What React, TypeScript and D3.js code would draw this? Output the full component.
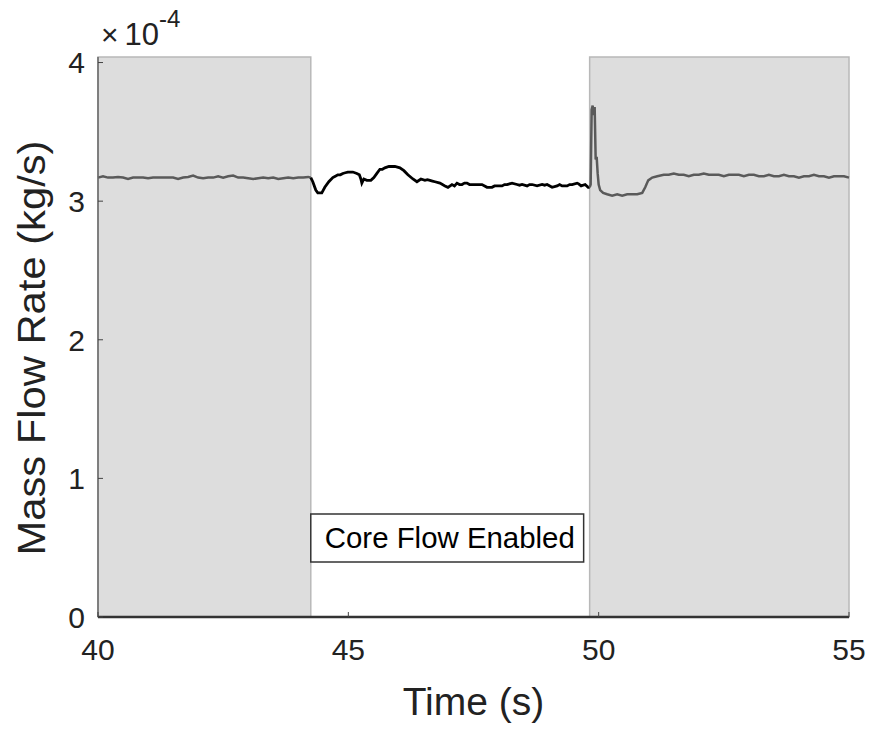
import React from "react";
import * as d3 from "d3";

// Data (mass flow rate in units of 1e-4 kg/s)
const leftT = [40.0,40.1,40.2,40.3,40.4,40.5,40.6,40.7,40.8,40.9,41.0,41.1,41.2,41.3,41.4,41.5,41.6,41.7,41.8,41.9,42.0,42.1,42.2,42.3,42.4,42.5,42.6,42.7,42.8,42.9,43.0,43.1,43.2,43.3,43.4,43.5,43.6,43.7,43.8,43.9,44.0,44.1,44.2,44.25];
const leftV = [3.17,3.18,3.17,3.17,3.175,3.17,3.16,3.17,3.17,3.17,3.165,3.17,3.17,3.17,3.17,3.17,3.16,3.17,3.175,3.185,3.17,3.165,3.17,3.17,3.18,3.17,3.18,3.185,3.17,3.17,3.165,3.16,3.165,3.17,3.165,3.17,3.16,3.165,3.17,3.165,3.17,3.17,3.175,3.17];

const midT = [44.25,44.29,44.35,44.39,44.47,44.53,44.61,44.69,44.74,44.79,44.84,44.89,44.94,44.99,45.04,45.09,45.17,45.22,45.25,45.27,45.31,45.37,45.45,45.51,45.57,45.63,45.68,45.73,45.81,45.93,46.03,46.11,46.19,46.29,46.37,46.45,46.53,46.58,46.63,46.68,46.73,46.83,46.93,46.99,47.07,47.12,47.17,47.22,47.27,47.32,47.37,47.42,47.47,47.57,47.67,47.77,47.87,47.92,47.97,48.07,48.12,48.17,48.27,48.37,48.42,48.47,48.57,48.62,48.67,48.77,48.87,48.92,48.97,49.07,49.17,49.22,49.27,49.37,49.42,49.47,49.57,49.60,49.65,49.73,49.79,49.82];
const midV = [3.17,3.14,3.08,3.06,3.06,3.10,3.14,3.17,3.18,3.19,3.19,3.20,3.205,3.21,3.21,3.21,3.20,3.19,3.16,3.13,3.16,3.15,3.15,3.17,3.20,3.23,3.23,3.24,3.25,3.25,3.24,3.22,3.19,3.16,3.14,3.16,3.15,3.155,3.15,3.145,3.14,3.13,3.11,3.10,3.12,3.11,3.13,3.12,3.12,3.13,3.13,3.12,3.12,3.12,3.12,3.10,3.10,3.11,3.11,3.11,3.12,3.12,3.13,3.12,3.115,3.12,3.11,3.12,3.12,3.11,3.12,3.115,3.12,3.10,3.11,3.12,3.11,3.11,3.12,3.12,3.13,3.125,3.11,3.12,3.10,3.10];

const rightT = [49.82,49.84,49.86,49.88,49.90,49.92,49.94,49.96,49.98,50.00,50.03,50.09,50.17,50.27,50.37,50.47,50.57,50.67,50.77,50.87,50.93,50.99,51.07,51.17,51.3,51.4,51.5,51.6,51.7,51.8,51.9,52.0,52.1,52.2,52.3,52.4,52.5,52.6,52.7,52.8,52.9,53.0,53.1,53.2,53.3,53.4,53.5,53.6,53.7,53.8,53.9,54.0,54.1,54.2,54.3,54.4,54.5,54.6,54.7,54.8,54.9,55.0];
const rightV = [3.10,3.12,3.66,3.69,3.62,3.68,3.30,3.32,3.20,3.12,3.08,3.06,3.05,3.04,3.05,3.04,3.05,3.05,3.05,3.06,3.10,3.15,3.17,3.18,3.19,3.19,3.20,3.19,3.19,3.18,3.19,3.19,3.20,3.19,3.19,3.19,3.18,3.19,3.19,3.19,3.18,3.19,3.19,3.18,3.18,3.19,3.18,3.18,3.19,3.18,3.18,3.17,3.18,3.18,3.19,3.18,3.18,3.17,3.18,3.18,3.18,3.17];

const shadeStart = [40, 49.82];
const shadeEnd = [44.25, 55];

const xTicks = [40, 45, 50, 55];
const yTicks = [0, 1, 2, 3, 4];

const annotation = "Core Flow Enabled";
const xLabel = "Time (s)";
const yLabel = "Mass Flow Rate (kg/s)";

export default function App() {
  const W = 871, H = 729;
  const x = d3.scaleLinear().domain([40, 55]).range([98, 849]);
  const y = d3.scaleLinear().domain([0, 4.04]).range([617, 57]);
  const line = d3.line<[number, number]>().x(d => x(d[0])).y(d => y(d[1]));
  const seg = (t: number[], v: number[]) => line(t.map((tt, i) => [tt, v[i]] as [number, number])) || "";
  const font = "'Liberation Sans', Arial, sans-serif";

  return (
    <svg width={W} height={H} style={{ position: "absolute", left: 0, top: 0, background: "#fff" }} fontFamily={font}>
      <rect x={0} y={0} width={W} height={H} fill="#fff" />
      {shadeStart.map((s, i) => (
        <rect key={i} x={x(s)} y={y(4.04)} width={x(shadeEnd[i]) - x(s)} height={y(0) - y(4.04)}
          fill="#dddddd" stroke="#b8b8b8" strokeWidth={1.5} />
      ))}
      <path d={seg(leftT, leftV)} fill="none" stroke="#5a5a5a" strokeWidth={2.5} />
      <path d={seg(midT, midV)} fill="none" stroke="#000" strokeWidth={2.8} />
      <path d={seg(rightT, rightV)} fill="none" stroke="#5a5a5a" strokeWidth={2.5} />

      {/* annotation box */}
      <rect x={x(44.25)} y={514} width={x(49.7) - x(44.25)} height={48} fill="#fff" stroke="#333" strokeWidth={1.5} />
      <text x={x(44.25) + 14} y={548} fontSize={29} fill="#000" textLength={250} lengthAdjust="spacingAndGlyphs">{annotation}</text>

      {/* axes */}
      <line x1={x(40)} x2={x(40)} y1={y(4.04)} y2={y(0)} stroke="#666" strokeWidth={1.5} />
      <line x1={x(40)} x2={x(55)} y1={y(0)} y2={y(0)} stroke="#333" strokeWidth={2.5} />
      {yTicks.map(t => (
        <g key={t}>
          <line x1={x(40)} x2={x(40) + 5} y1={y(t)} y2={y(t)} stroke="#444" strokeWidth={1} />
          <text x={85} y={y(t)} dy="0.36em" textAnchor="end" fontSize={30} fill="#222">{t}</text>
        </g>
      ))}
      {xTicks.map(t => (
        <g key={t}>
          <line x1={x(t)} x2={x(t)} y1={y(0)} y2={y(0) - 5} stroke="#444" strokeWidth={1} />
          <text x={x(t)} y={660} textAnchor="middle" fontSize={30} fill="#222">{t}</text>
        </g>
      ))}
      <text x={101} y={45} fontSize={31} fill="#222">
        <tspan fontSize={30}>×</tspan>
        <tspan dx={6}>10</tspan>
        <tspan dy={-18} fontSize={24}>-4</tspan>
      </text>
      <text x={x(47.5)} y={715} textAnchor="middle" fontSize={39} fill="#222">{xLabel}</text>
      <text transform={`translate(45, 348) rotate(-90)`} textAnchor="middle" fontSize={39} fill="#222" textLength={415} lengthAdjust="spacingAndGlyphs">{yLabel}</text>
    </svg>
  );
}
